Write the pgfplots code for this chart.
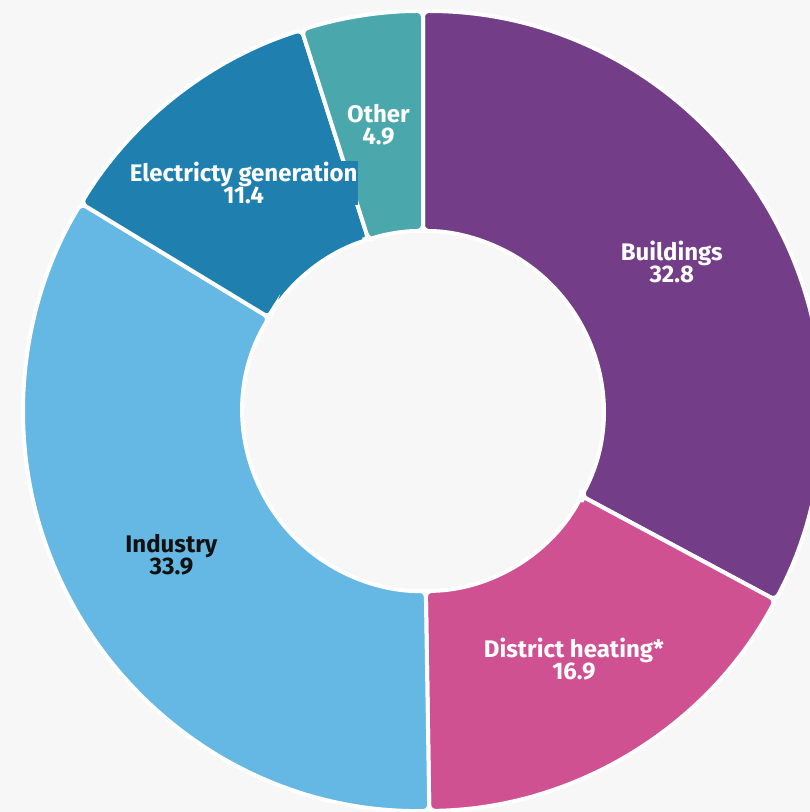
\documentclass[border=0pt]{standalone}
\usepackage{fontspec}
\setmainfont{Fira Sans}
\usepackage{pgfplots}
\usepackage{pgfplotstable}
\pgfplotsset{compat=1.18}
\definecolor{bg}{HTML}{F7F7F7}
\definecolor{cBuild}{HTML}{733D87}
\definecolor{cDist}{HTML}{D05192}
\definecolor{cInd}{HTML}{65B8E3}
\definecolor{cElec}{HTML}{1F80B0}
\definecolor{cOther}{HTML}{4AA8AD}
\definecolor{cDark}{HTML}{111111}

\pgfplotstableread[col sep=comma]{
name,value
Buildings,32.8
District heating*,16.9
Industry,33.9
Electricty generation,11.4
Other,4.9
}\donutdata

\def\cx{423}
\def\cy{401}
\def\Rout{400}
\def\Rin{180}
\def\Rmid{290}

\newcommand\slice[3]{%
  \fill[#3, draw=white, line width=4pt, rounded corners=6pt]
    ({\cx+\Rin*cos(#1)},{\cy+\Rin*sin(#1)}) --
    ({\cx+\Rout*cos(#1)},{\cy+\Rout*sin(#1)})
    arc[start angle=#1, end angle=#2, radius=\Rout pt] --
    ({\cx+\Rin*cos(#2)},{\cy+\Rin*sin(#2)})
    arc[start angle=#2, end angle=#1, radius=\Rin pt] -- cycle;
}
\newcommand\lab[5]{%
  \node[fill=#2, text=#3, inner sep=1pt, align=center,
        font=\fontsize{24}{22}\selectfont\bfseries]
    at ({\cx+\Rmid*cos(#1)},{\cy+\Rmid*sin(#1)}) {#4\\#5};
}

\begin{document}
\begin{tikzpicture}
\pgfplotstablegetelem{0}{value}\of\donutdata \let\vA\pgfplotsretval
\pgfplotstablegetelem{1}{value}\of\donutdata \let\vB\pgfplotsretval
\pgfplotstablegetelem{2}{value}\of\donutdata \let\vC\pgfplotsretval
\pgfplotstablegetelem{3}{value}\of\donutdata \let\vD\pgfplotsretval
\pgfplotstablegetelem{4}{value}\of\donutdata \let\vE\pgfplotsretval
\pgfplotstablegetelem{0}{name}\of\donutdata \let\nA\pgfplotsretval
\pgfplotstablegetelem{1}{name}\of\donutdata \let\nB\pgfplotsretval
\pgfplotstablegetelem{2}{name}\of\donutdata \let\nC\pgfplotsretval
\pgfplotstablegetelem{3}{name}\of\donutdata \let\nD\pgfplotsretval
\pgfplotstablegetelem{4}{name}\of\donutdata \let\nE\pgfplotsretval
\pgfmathsetmacro\tot{\vA+\vB+\vC+\vD+\vE}
\pgfmathsetmacro\aA{90}
\pgfmathsetmacro\aB{\aA-360*\vA/\tot}
\pgfmathsetmacro\aC{\aB-360*\vB/\tot}
\pgfmathsetmacro\aD{\aC-360*\vC/\tot}
\pgfmathsetmacro\aE{\aD-360*\vD/\tot}
\pgfmathsetmacro\aF{\aE-360*\vE/\tot}
\pgfmathsetmacro\mA{(\aA+\aB)/2}
\pgfmathsetmacro\mB{(\aB+\aC)/2}
\pgfmathsetmacro\mC{(\aC+\aD)/2}
\pgfmathsetmacro\mD{(\aD+\aE)/2}
\pgfmathsetmacro\mE{(\aE+\aF)/2}
\fill[bg] (0,0) rectangle (810pt,812pt);
\begin{axis}[x=1pt, y=1pt, xmin=0, xmax=810, ymin=0, ymax=812,
  hide axis, at={(0,0)}, anchor=south west, clip=true]
  \slice{\aA}{\aB}{cBuild}
  \slice{\aB}{\aC}{cDist}
  \slice{\aC}{\aD}{cInd}
  \slice{\aD}{\aE}{cElec}
  \slice{\aE}{\aF}{cOther}
  \lab{\mA}{none}{white}{\nA}{\vA}
  \lab{\mB}{none}{white}{\nB}{\vB}
  \lab{\mC}{none}{cDark}{\nC}{\vC}
  \lab{\mD}{cElec}{white}{\nD}{\vD}
  \lab{\mE}{none}{white}{\nE}{\vE}
\end{axis}
\pgfresetboundingbox
\path[use as bounding box] (0,0) rectangle (810pt,812pt);
\end{tikzpicture}
\end{document}
